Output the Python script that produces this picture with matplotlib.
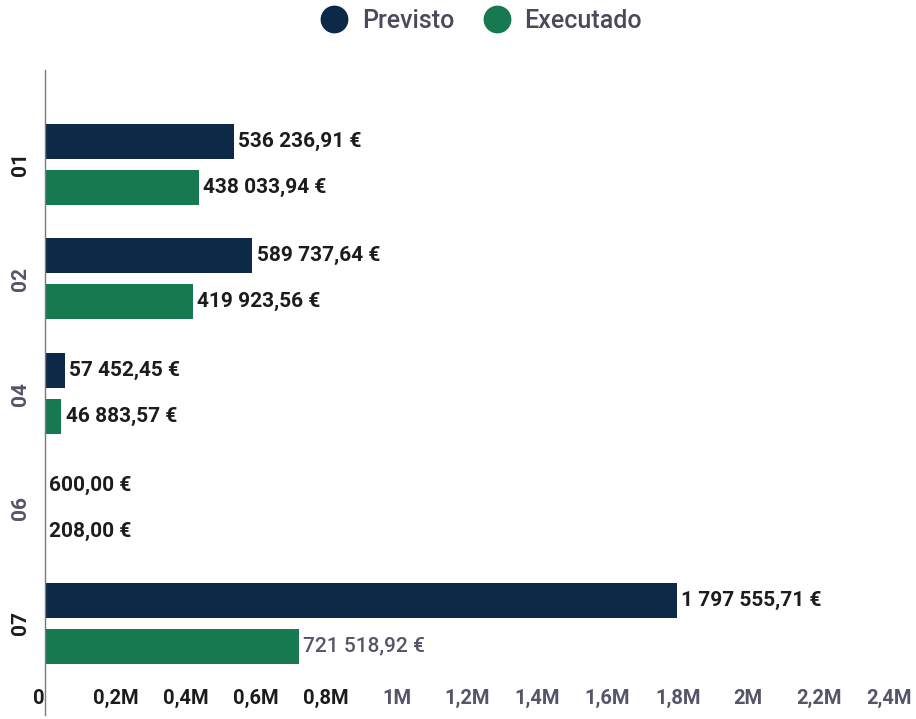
import matplotlib
matplotlib.use("Agg")
import matplotlib.pyplot as plt
from matplotlib.lines import Line2D
import numpy as np

categories = ["01", "02", "04", "06", "07"]
previsto = [536236.91, 589737.64, 57452.45, 600.00, 1797555.71]
executado = [438033.94, 419923.56, 46883.57, 208.00, 721518.92]
xtick_values = [0, 200000, 400000, 600000, 800000, 1000000, 1200000,
                1400000, 1600000, 1800000, 2000000, 2200000, 2400000]
xtick_labels = ["0", "0,2M", "0,4M", "0,6M", "0,8M", "1M", "1,2M",
                "1,4M", "1,6M", "1,8M", "2M", "2,2M", "2,4M"]
series_names = ["Previsto", "Executado"]

NAVY = "#0c2a47"
GREEN = "#16794f"
DARK = "#1c1c1c"
GREY = "#55556a"

plt.rcParams["font.family"] = ["Roboto", "DejaVu Sans"]


def fmt_eur(v):
    s = f"{v:,.2f}"
    s = s.replace(",", " ").replace(".", ",")
    return s + " €"


fig = plt.figure(figsize=(9.16, 7.19), dpi=100)
ax = fig.add_axes([45 / 916, 1 - 715 / 719, 865 / 916, (715 - 70) / 719])

y = np.arange(len(categories))
h = 0.305
off = 0.2
ax.barh(y - off, previsto, height=h, color=NAVY)
ax.barh(y + off, executado, height=h, color=GREEN)

for i in range(len(categories)):
    ax.annotate(fmt_eur(previsto[i]), (previsto[i], y[i] - off),
                xytext=(3, 0), textcoords="offset points",
                va="center", ha="left", fontsize=15, fontweight="bold",
                color=DARK)
    col = GREY if i == 4 else DARK
    wt = "medium" if i == 4 else "bold"
    ax.annotate(fmt_eur(executado[i]), (executado[i], y[i] + off),
                xytext=(3, 0), textcoords="offset points",
                va="center", ha="left", fontsize=15, fontweight=wt,
                color=col)

ax.set_xlim(0, 2460000)
ax.set_ylim(4.80, -0.82)

ax.set_xticks(xtick_values)
ax.set_xticklabels(xtick_labels)
ax.tick_params(axis="x", length=0, pad=-19, labelsize=14.5)
for i, lab in enumerate(ax.get_xticklabels()):
    lab.set_fontweight("bold")
    lab.set_color(DARK if i < 5 else GREY)
ax.get_xticklabels()[0].set_ha("right")

ax.set_yticks(y)
ax.set_yticklabels(categories, rotation=90, va="center")
ax.tick_params(axis="y", length=0, pad=11, labelsize=15)
ycols = [DARK, GREY, GREY, GREY, DARK]
for lab, c in zip(ax.get_yticklabels(), ycols):
    lab.set_color(c)
    lab.set_fontweight("bold")

for s in ["top", "right", "bottom"]:
    ax.spines[s].set_visible(False)
ax.spines["left"].set_color("#7a7a7a")
ax.spines["left"].set_linewidth(1.0)

handles = [Line2D([0], [0], marker="o", linestyle="", markersize=19,
                  markerfacecolor=NAVY, markeredgecolor=NAVY),
           Line2D([0], [0], marker="o", linestyle="", markersize=19,
                  markerfacecolor=GREEN, markeredgecolor=GREEN)]
leg = fig.legend(handles, series_names, loc="center",
                 bbox_to_anchor=(482 / 916, 1 - 21 / 719), ncol=2,
                 frameon=False, fontsize=18, handletextpad=0.6,
                 columnspacing=1.2, handlelength=1.0)
for t in leg.get_texts():
    t.set_color("#4a4a5c")
    t.set_fontweight("medium")

fig.savefig("out.png", dpi=100)
